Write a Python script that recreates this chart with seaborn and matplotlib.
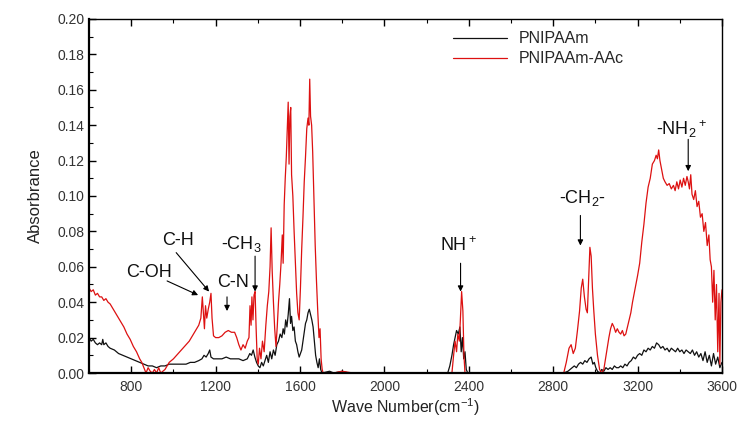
import matplotlib
matplotlib.use('Agg')
import matplotlib.pyplot as plt
import pandas as pd
import seaborn as sns

# FTIR spectra
red_wn = [600, 610, 620, 630, 640, 650, 660, 670, 680, 690, 700, 710, 720, 735, 750, 765, 780, 795,
          810, 825, 840, 850, 860, 870, 880, 890, 900, 910, 920, 930, 940, 950, 960, 970, 980, 990,
          1000, 1015, 1030, 1045, 1060, 1075, 1090, 1105, 1120, 1130, 1137, 1142, 1147, 1152, 1158,
          1165, 1172, 1178, 1183, 1190, 1200, 1215, 1230, 1245, 1260, 1275, 1290, 1300, 1310, 1320,
          1330, 1340, 1350, 1358, 1363, 1368, 1372, 1377, 1382, 1387, 1392, 1397, 1402, 1408, 1415,
          1422, 1430, 1438, 1445, 1452, 1458, 1463, 1468, 1474, 1480, 1486, 1492, 1498, 1504, 1510,
          1516, 1520, 1525, 1530, 1535, 1540, 1544, 1548, 1552, 1556, 1560, 1566, 1572, 1578, 1584,
          1590, 1596, 1602, 1608, 1614, 1620, 1626, 1632, 1638, 1642, 1646, 1650, 1655, 1660, 1666,
          1672, 1678, 1684, 1690, 1695, 1700, 1705, 1710, 1760, 1800, 1850, 2000, 2200, 2320, 2328,
          2335, 2342, 2348, 2355, 2360, 2366, 2372, 2377, 2382, 2500, 2700, 2850, 2862, 2875, 2885,
          2895, 2905, 2915, 2925, 2933, 2940, 2948, 2956, 2962, 2968, 2974, 2980, 2986, 2992, 3000,
          3010, 3020, 3030, 3040, 3048, 3056, 3064, 3072, 3080, 3088, 3096, 3104, 3112, 3120, 3128,
          3136, 3144, 3152, 3160, 3168, 3176, 3184, 3192, 3200, 3210, 3220, 3230, 3240, 3250, 3260,
          3270, 3280, 3288, 3294, 3300, 3306, 3314, 3322, 3330, 3340, 3350, 3360, 3370, 3378, 3386,
          3394, 3402, 3410, 3418, 3426, 3434, 3440, 3446, 3452, 3458, 3466, 3474, 3482, 3490, 3498,
          3506, 3514, 3522, 3530, 3538, 3544, 3550, 3556, 3562, 3568, 3574, 3580, 3586, 3590, 3595,
          3600]
red_abs = [0.048, 0.046, 0.047, 0.044, 0.045, 0.043, 0.043, 0.041, 0.042, 0.040, 0.039, 0.037, 0.035,
           0.032, 0.029, 0.026, 0.022, 0.019, 0.015, 0.012, 0.008, 0.006, 0.003, 0.000, 0.003, 0.001,
           0.000, 0.002, 0.000, 0.003, 0.000, 0.001, 0.002, 0.004, 0.006, 0.007, 0.008, 0.010, 0.012,
           0.014, 0.016, 0.018, 0.021, 0.024, 0.027, 0.031, 0.043, 0.034, 0.025, 0.038, 0.031, 0.036,
           0.040, 0.045, 0.031, 0.021, 0.020, 0.020, 0.021, 0.023, 0.024, 0.023, 0.023, 0.020, 0.016,
           0.013, 0.016, 0.014, 0.018, 0.020, 0.038, 0.027, 0.043, 0.030, 0.044, 0.046, 0.025, 0.008,
           0.005, 0.014, 0.008, 0.018, 0.012, 0.027, 0.038, 0.046, 0.060, 0.082, 0.058, 0.040, 0.025,
           0.015, 0.026, 0.040, 0.050, 0.062, 0.078, 0.062, 0.095, 0.110, 0.122, 0.140, 0.153, 0.118,
           0.145, 0.150, 0.112, 0.100, 0.080, 0.062, 0.045, 0.034, 0.030, 0.048, 0.070, 0.088, 0.108,
           0.122, 0.138, 0.144, 0.140, 0.166, 0.145, 0.140, 0.125, 0.098, 0.072, 0.052, 0.035, 0.020,
           0.025, 0.008, 0.002, 0.000, 0.000, 0.001, 0.000, 0.000, 0.000, 0.000, 0.010, 0.018, 0.012,
           0.022, 0.018, 0.030, 0.046, 0.035, 0.010, 0.000, 0.000, 0.000, 0.000, 0.006, 0.014, 0.016,
           0.011, 0.014, 0.024, 0.035, 0.048, 0.053, 0.043, 0.036, 0.034, 0.052, 0.071, 0.066, 0.048,
           0.036, 0.022, 0.010, 0.002, 0.000, 0.002, 0.008, 0.014, 0.020, 0.025, 0.028, 0.026, 0.023,
           0.025, 0.023, 0.022, 0.024, 0.021, 0.022, 0.026, 0.030, 0.034, 0.040, 0.045, 0.050, 0.055,
           0.062, 0.074, 0.084, 0.096, 0.105, 0.110, 0.118, 0.120, 0.123, 0.121, 0.126, 0.120, 0.115,
           0.110, 0.108, 0.106, 0.107, 0.104, 0.106, 0.103, 0.108, 0.104, 0.109, 0.105, 0.110, 0.106,
           0.111, 0.108, 0.104, 0.112, 0.101, 0.098, 0.103, 0.094, 0.097, 0.088, 0.090, 0.080, 0.085,
           0.072, 0.078, 0.064, 0.060, 0.040, 0.058, 0.030, 0.050, 0.012, 0.045, 0.005, 0.040, 0.047]

black_wn = [600, 610, 620, 630, 640, 650, 660, 665, 670, 680, 690, 700, 720, 740, 760, 780, 800, 820,
            840, 860, 880, 900, 920, 940, 960, 980, 1000, 1020, 1040, 1060, 1080, 1100, 1120, 1135,
            1145, 1155, 1165, 1172, 1178, 1190, 1210, 1230, 1250, 1270, 1290, 1310, 1330, 1350, 1362,
            1370, 1378, 1386, 1394, 1402, 1410, 1418, 1426, 1434, 1442, 1450, 1458, 1466, 1474, 1482,
            1490, 1498, 1506, 1514, 1520, 1526, 1532, 1538, 1544, 1550, 1555, 1560, 1566, 1572, 1578,
            1584, 1590, 1596, 1602, 1608, 1614, 1620, 1626, 1632, 1638, 1644, 1650, 1656, 1662, 1668,
            1674, 1680, 1686, 1692, 1698, 1704, 1740, 1760, 1800, 1830, 1900, 2000, 2100, 2200, 2300,
            2310, 2320, 2328, 2335, 2342, 2350, 2358, 2364, 2370, 2376, 2382, 2388, 2395, 2500, 2700,
            2850, 2870, 2880, 2890, 2900, 2910, 2920, 2930, 2940, 2950, 2960, 2970, 2980, 2988, 2995,
            3002, 3010, 3020, 3030, 3040, 3050, 3060, 3070, 3080, 3090, 3100, 3110, 3120, 3130, 3140,
            3150, 3160, 3170, 3180, 3190, 3200, 3210, 3220, 3230, 3240, 3250, 3260, 3270, 3280, 3290,
            3300, 3310, 3320, 3330, 3340, 3350, 3360, 3370, 3380, 3390, 3400, 3410, 3420, 3430, 3440,
            3450, 3460, 3470, 3480, 3490, 3500, 3510, 3520, 3530, 3540, 3550, 3560, 3570, 3580, 3590,
            3600]
black_abs = [0.020, 0.018, 0.019, 0.017, 0.016, 0.017, 0.016, 0.019, 0.016, 0.017, 0.015, 0.014,
             0.013, 0.011, 0.010, 0.009, 0.008, 0.007, 0.006, 0.005, 0.004, 0.004, 0.003, 0.004,
             0.004, 0.005, 0.005, 0.005, 0.005, 0.005, 0.006, 0.006, 0.007, 0.008, 0.010, 0.009,
             0.011, 0.013, 0.009, 0.008, 0.008, 0.008, 0.009, 0.008, 0.008, 0.008, 0.007, 0.008,
             0.011, 0.010, 0.013, 0.009, 0.006, 0.004, 0.003, 0.006, 0.004, 0.007, 0.010, 0.006,
             0.012, 0.008, 0.013, 0.010, 0.016, 0.018, 0.022, 0.020, 0.025, 0.022, 0.030, 0.026,
             0.033, 0.042, 0.028, 0.032, 0.024, 0.026, 0.018, 0.016, 0.012, 0.009, 0.011, 0.013,
             0.018, 0.023, 0.028, 0.030, 0.034, 0.036, 0.033, 0.030, 0.026, 0.018, 0.010, 0.006,
             0.003, 0.008, 0.002, 0.000, 0.001, 0.000, 0.001, 0.000, 0.000, 0.000, 0.000, 0.000,
             0.000, 0.004, 0.010, 0.016, 0.020, 0.024, 0.022, 0.026, 0.012, 0.020, 0.008, 0.012,
             0.002, 0.000, 0.000, 0.000, 0.000, 0.001, 0.002, 0.003, 0.004, 0.003, 0.005, 0.006,
             0.005, 0.007, 0.006, 0.008, 0.009, 0.005, 0.006, 0.003, 0.001, 0.000, 0.002, 0.001,
             0.003, 0.002, 0.003, 0.002, 0.004, 0.003, 0.003, 0.004, 0.003, 0.005, 0.004, 0.006,
             0.007, 0.009, 0.008, 0.010, 0.011, 0.010, 0.013, 0.012, 0.014, 0.013, 0.015, 0.014,
             0.017, 0.016, 0.014, 0.015, 0.013, 0.014, 0.012, 0.014, 0.013, 0.012, 0.014, 0.012,
             0.013, 0.011, 0.013, 0.012, 0.011, 0.013, 0.010, 0.012, 0.009, 0.011, 0.007, 0.012,
             0.006, 0.010, 0.004, 0.011, 0.005, 0.009, 0.003, 0.006]

series_names = ['PNIPAAm', 'PNIPAAm-AAc']
series_colors = ['#111111', '#dd1111']

# peak labels: text, text position, arrow tail, arrow tip (data units)
peak_labels = ['C-OH', 'C-H', 'C-N', '-CH$_3$', 'NH$^+$', '-CH$_2$-', '-NH$_2$$^+$']
label_xy = [(885, 0.0565), (1023, 0.075), (1283, 0.051), (1321, 0.073),
            (2352, 0.072), (2938, 0.099), (3407, 0.138)]
arrow_from = [(970, 0.052), (1013, 0.068), (1254, 0.043), (1387, 0.066),
              (2361, 0.062), (2929, 0.089), (3440, 0.132)]
arrow_to = [(1117, 0.044), (1169, 0.046), (1254, 0.035), (1387, 0.046),
            (2361, 0.046), (2929, 0.072), (3440, 0.114)]

df = pd.concat([
    pd.DataFrame({'wn': black_wn, 'abs': black_abs, 'sample': series_names[0]}),
    pd.DataFrame({'wn': red_wn, 'abs': red_abs, 'sample': series_names[1]}),
])

sns.set_style('ticks')
plt.rcParams['font.family'] = ['Liberation Sans', 'DejaVu Sans']
plt.rcParams['mathtext.fontset'] = 'custom'
plt.rcParams['mathtext.rm'] = 'Liberation Sans'

fig = plt.figure(figsize=(7.42, 4.21), dpi=100)
ax = fig.add_axes([0.120, 0.114, 0.853, 0.841])

sns.lineplot(data=df, x='wn', y='abs', hue='sample', palette=series_colors,
             hue_order=series_names, estimator=None, sort=False, linewidth=0.9, ax=ax)

ax.set_xlim(600, 3600)
ax.set_ylim(0, 0.20)
ax.set_xticks(range(800, 3601, 400))
ax.set_xticks(range(600, 3601, 200), minor=True)
ax.set_yticks([i * 0.02 for i in range(11)])
ax.set_yticks([i * 0.01 for i in range(21)], minor=True)
ax.set_yticklabels([f'{i * 0.02:.2f}' for i in range(11)])

for side in ['top', 'right', 'left', 'bottom']:
    ax.spines[side].set_visible(True)
    ax.spines[side].set_color('black')
ax.spines['left'].set_linewidth(1.6)
ax.spines['bottom'].set_linewidth(1.6)
ax.spines['top'].set_linewidth(1.0)
ax.spines['right'].set_linewidth(1.0)

ax.tick_params(axis='both', which='both', direction='in', colors='black',
               labelcolor='#333333', labelsize=10)
ax.tick_params(axis='x', which='both', top=True)
ax.tick_params(which='major', length=5, width=1.0)
ax.tick_params(which='minor', length=3, width=0.8)
ax.tick_params(axis='x', pad=5)

ax.set_xlabel('Wave Number(cm$^{-1}$)', fontsize=11.5, color='#222222', labelpad=2)
ax.set_ylabel('Absorbrance', fontsize=12, color='#222222', labelpad=10)

for txt, xy, a0, a1 in zip(peak_labels, label_xy, arrow_from, arrow_to):
    ax.text(xy[0], xy[1], txt, fontsize=13, ha='center', va='center', color='#111111')
    ax.annotate('', xy=a1, xytext=a0,
                arrowprops=dict(arrowstyle='-|>', color='black', lw=0.8,
                                mutation_scale=8, shrinkA=0, shrinkB=0))

leg = ax.legend(loc='upper left', bbox_to_anchor=(0.575, 0.965), frameon=False,
                fontsize=11.5, handlelength=3.4, handletextpad=0.7, labelspacing=0.3,
                borderpad=0, borderaxespad=0)
for line in leg.get_lines():
    line.set_linewidth(0.9)

fig.savefig('out.png', dpi=100)
